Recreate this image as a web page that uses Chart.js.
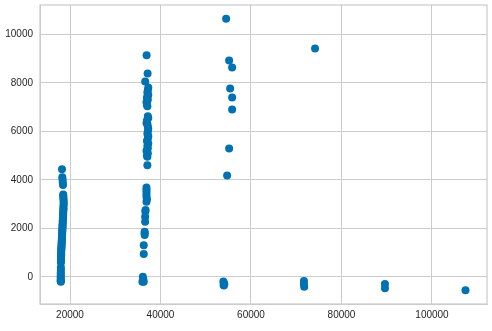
<!DOCTYPE html>
<html>
<head>
<meta charset="utf-8">
<script src="https://cdn.jsdelivr.net/npm/chart.js@4/dist/chart.umd.min.js"></script>
<style>
html,body{margin:0;padding:0;background:#fff;}
#c{display:block;}
</style>
</head>
<body>
<canvas id="c" width="492" height="331"></canvas>
<script>
// x values (salary-like) and y values
const xValues = [
  // cluster near 18000
  18230,18300,18350,18400,18450,18500,18500,18550,18550,18600,18600,18600,18550,18550,18550,18500,18500,18500,18450,18450,
  18450,18400,18400,18400,18350,18350,18350,18300,18300,18300,18250,18250,18250,18200,18200,18200,18150,18150,18150,18100,
  18100,18100,18050,18050,18050,18050,18000,18000,18000,18000,18000,17980,17980,17960,17960,17950,17950,17950,17950,17950,17980,
  // cluster near 37000
  36930,37150,36620,37300,37200,37100,37300,37000,37200,36900,37000,37100,37200,37300,37000,36900,37100,37200,37300,37200,
  37100,37300,37200,37000,37300,37100,37200,36900,37200,37000,37100,37100,36900,36900,36900,36900,36900,37000,36900,36700,
  36650,36600,36600,36500,36500,36500,36300,36300,36100,36200,36000,36300,
  // cluster near 55000
  54500,55170,55830,55390,55830,55830,55170,54720,53900,54000,53950,54100,54000,
  // others
  74150,71700,71700,71750,89600,89600,107400
];
const yValues = [
  4444,4115,4020,3900,3786,3400,3350,3280,3200,3120,3050,2980,2900,2830,2760,2700,2640,2580,2520,2460,
  2400,2340,2280,2220,2160,2100,2040,1980,1920,1860,1800,1740,1680,1620,1560,1500,1440,1380,1320,1260,
  1200,1140,1080,1020,960,900,840,780,720,660,600,400,300,200,120,50,-20,-80,-130,-180,-200,
  9136,8383,8053,7807,7700,7600,7500,7400,7300,7200,7100,7037,6626,6550,6450,6350,6300,6200,6100,6000,
  5900,5800,5700,5600,5500,5400,5300,5200,5100,5000,4951,4609,3691,3600,3500,3400,3300,3200,3099,2757,
  2700,2482,2276,1864,1800,1728,1304,947,12,-100,-193,-200,
  10646,8918,8630,7765,7395,6901,5296,4185,-190,-250,-330,-300,-350,
  9412,-165,-300,-400,-288,-466,-549
];
const xTicks = [20000, 40000, 60000, 80000, 100000];
const yTicks = [0, 2000, 4000, 6000, 8000, 10000];

const points = xValues.map((x, i) => ({x: x, y: yValues[i]}));

const frame = {
  id: 'frame',
  beforeDatasetsDraw(chart) {
    const a = chart.chartArea, ctx = chart.ctx;
    ctx.save();
    ctx.strokeStyle = '#cccccc';
    ctx.lineWidth = 1.25;
    ctx.strokeRect(a.left, a.top, a.right - a.left, a.bottom - a.top);
    ctx.restore();
  }
};

new Chart(document.getElementById('c'), {
  type: 'scatter',
  data: {
    datasets: [{
      data: points,
      backgroundColor: '#0072B2',
      borderColor: '#0072B2',
      borderWidth: 0,
      pointRadius: 4,
      pointHoverRadius: 4
    }]
  },
  options: {
    responsive: false,
    animation: false,
    layout: {padding: {top: 5, right: 5, left: 0, bottom: 0}},
    plugins: {legend: {display: false}, tooltip: {enabled: false}},
    scales: {
      x: {
        type: 'linear',
        min: 13370,
        max: 112155,
        afterBuildTicks: s => { s.ticks = xTicks.map(v => ({value: v})); },
        afterFit: s => { s.height = 27; s.paddingLeft = 0; s.paddingRight = 0; },
        grid: {color: '#cccccc', lineWidth: 1, drawTicks: false},
        border: {color: '#cccccc', width: 1},
        ticks: {
          padding: 5,
          color: '#262626',
          font: {family: 'Liberation Sans', size: 10},
          maxRotation: 0,
          callback: v => String(v)
        }
      },
      y: {
        type: 'linear',
        min: -1113,
        max: 11208,
        afterBuildTicks: s => { s.ticks = yTicks.map(v => ({value: v})); },
        afterFit: s => { s.width = 40; s.paddingTop = 0; s.paddingBottom = 0; },
        grid: {color: '#cccccc', lineWidth: 1, drawTicks: false},
        border: {color: '#cccccc', width: 1},
        ticks: {
          padding: 7,
          color: '#262626',
          font: {family: 'Liberation Sans', size: 10},
          callback: v => String(v)
        }
      }
    }
  },
  plugins: [frame]
});
</script>
</body>
</html>
